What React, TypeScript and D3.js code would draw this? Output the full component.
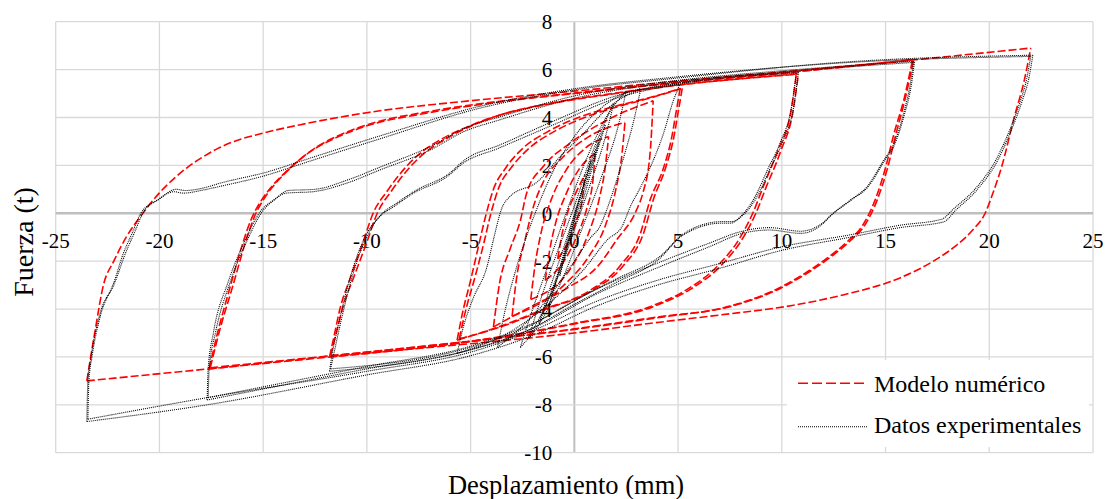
import React, { useEffect } from 'react';
import * as d3 from 'd3';

type P = [number, number];

const xTicks = [-25, -20, -15, -10, -5, 0, 5, 10, 15, 20, 25];
const yTicks = [-10, -8, -6, -4, -2, 0, 2, 4, 6, 8];
const xTitle = 'Desplazamiento (mm)';
const yTitle = 'Fuerza (t)';
const seriesNames = ['Modelo numérico', 'Datos experimentales'];

// ---- Modelo numérico (red, dashed) ----
const modelo1Up: P[] = [[-23.5, -7.0], [-23.1, -4.9], [-22.7, -3.0], [-22.2, -2.0], [-21.6, -1.0], [-20.8, 0], [-20, 0.85], [-19.3, 1.45], [-18.6, 1.95], [-18, 2.3], [-17.2, 2.7], [-16.4, 3.0], [-15, 3.35], [-13.2, 3.7], [-10, 4.2], [-5, 4.7], [0, 5.1], [4.1, 5.45], [10, 5.9], [15.7, 6.35], [22, 6.9]];
const modelo1Down: P[] = [[22, 6.9], [21.7, 5.6], [21.2, 4.0], [20.6, 1.95], [20.2, 0.9], [19.8, 0], [19.2, -0.7], [18.4, -1.35], [17.4, -1.95], [15.7, -2.7], [13, -3.4], [10.5, -3.85], [7, -4.25], [4.1, -4.55], [0, -5.0], [-10, -5.85], [-23.5, -7.0]];
const modelo2Up: P[] = [[-17.6, -6.5], [-17.2, -5.0], [-16.6, -3.1], [-16.0, -1.3], [-15.6, -0.3], [-15.15, 0.45], [-14.6, 1.1], [-14.0, 1.65], [-13.3, 2.2], [-12.6, 2.65], [-11.5, 3.15], [-10, 3.65], [-7, 4.2], [-3.6, 4.65], [0, 5.0], [5, 5.45], [10, 5.85], [16.3, 6.4]];
const modelo2Down: P[] = [[16.3, 6.4], [15.9, 4.8], [15.4, 3.3], [15.0, 1.9], [14.5, 0.56], [13.9, -0.5], [13.2, -1.15], [12.3, -1.8], [11.4, -2.35], [9.8, -3.15], [7.4, -3.9], [4.1, -4.35], [0, -4.85], [-5, -5.35], [-10, -5.8], [-17.6, -6.5]];
const modelo2bUp: P[] = [[-17.55, -6.45], [-17.1, -4.9], [-16.45, -3.0], [-15.85, -1.2], [-15.45, -0.2], [-15.0, 0.55], [-14.45, 1.2], [-13.85, 1.75], [-13.15, 2.3], [-12.45, 2.75], [-11.35, 3.25], [-9.9, 3.72], [-7, 4.25], [-3.6, 4.68], [0, 5.02], [5, 5.46], [10, 5.86], [16.35, 6.42]];
const modelo2bDown: P[] = [[16.35, 6.42], [15.95, 4.8], [15.5, 3.3], [15.1, 1.9], [14.6, 0.56], [14.0, -0.5], [13.3, -1.15], [12.4, -1.8], [11.5, -2.35], [9.9, -3.15], [7.5, -3.9], [4.1, -4.32], [0, -4.83], [-5, -5.34], [-10, -5.8], [-17.55, -6.45]];
const modelo3Up: P[] = [[-11.8, -6.0], [-11.55, -5.0], [-11.3, -4.0], [-10.8, -2.7], [-10.2, -1.25], [-9.7, 0], [-9.0, 0.95], [-8.1, 1.95], [-7.3, 2.6], [-6.5, 3.05], [-4.9, 3.7], [-3.6, 4.1], [-1, 4.6], [2, 5.0], [5, 5.35], [10.7, 5.8]];
const modelo3Down: P[] = [[10.7, 5.8], [10.45, 4.3], [9.8, 2.6], [9.1, 1.1], [8.6, 0], [8.0, -1.0], [6.9, -2.2], [5.4, -3.2], [3.65, -3.9], [0, -4.6], [-5, -5.35], [-11.8, -6.0]];
const modelo3bUp: P[] = [[-11.75, -5.95], [-11.45, -4.9], [-11.15, -3.9], [-10.6, -2.6], [-10.0, -1.2], [-9.5, 0], [-8.8, 0.95], [-7.9, 1.95], [-7.1, 2.6], [-6.3, 3.05], [-4.7, 3.75], [-3.4, 4.15], [-1, 4.62], [2, 5.02], [5, 5.36], [10.8, 5.82]];
const modelo3bDown: P[] = [[10.8, 5.82], [10.55, 4.3], [9.95, 2.6], [9.25, 1.1], [8.75, 0], [8.15, -1.0], [7.05, -2.2], [5.55, -3.2], [3.8, -3.9], [0, -4.62], [-5, -5.36], [-11.75, -5.95]];
const modelo4Up: P[] = [[-5.65, -5.3], [-5.4, -4.2], [-5.0, -2.8], [-4.6, -1.3], [-4.3, -0.2], [-3.9, 1.0], [-3.3, 1.9], [-2.5, 2.7], [-1.3, 3.4], [0.2, 4.0], [1.9, 4.45], [3.5, 4.8], [5.1, 5.2]];
const modelo4Down: P[] = [[5.1, 5.2], [4.9, 4.2], [4.7, 3.2], [4.3, 1.9], [3.65, 0.55], [3.2, -0.8], [2.2, -2.2], [0.8, -3.2], [-1.6, -4.05], [-3.5, -4.7], [-5.65, -5.3]];
const modelo4bUp: P[] = [[-5.55, -5.25], [-5.25, -4.1], [-4.8, -2.7], [-4.35, -1.2], [-4.05, -0.1], [-3.65, 1.05], [-3.0, 1.95], [-2.2, 2.7], [-1.0, 3.4], [0.5, 4.0], [2.1, 4.45], [3.6, 4.8], [5.2, 5.22]];
const modelo4bDown: P[] = [[5.2, 5.22], [5.0, 4.2], [4.8, 3.2], [4.4, 1.9], [3.8, 0.55], [3.35, -0.8], [2.35, -2.2], [0.9, -3.2], [-1.5, -4.05], [-3.4, -4.7], [-5.55, -5.25]];
const modelo5Up: P[] = [[-3.9, -4.75], [-3.6, -2.9], [-3.1, -1.5], [-2.6, -0.3], [-2.3, 0.84], [-1.5, 1.95], [-0.25, 2.9], [1.6, 3.9], [3.8, 4.7]];
const modelo5Down: P[] = [[3.8, 4.7], [3.65, 2.5], [3.3, 0.84], [3.0, 0.14], [2.05, -1.1], [1.1, -2.24], [-0.3, -3.1], [-2.1, -3.9], [-3.9, -4.75]];
const modelo6Up: P[] = [[-3.0, -4.3], [-2.8, -2.8], [-2.4, -1.2], [-2.0, 0.2], [-1.5, 1.3], [-0.6, 2.3], [0.7, 3.2], [2.44, 3.8]];
const modelo6Down: P[] = [[2.44, 3.8], [2.3, 2.5], [2.0, 1.0], [1.5, -0.5], [0.7, -1.8], [-0.5, -3.0], [-3.0, -4.3]];
const modelo7Up: P[] = [[-2.1, -3.6], [-1.9, -2.2], [-1.6, -0.8], [-1.1, 0.6], [-0.4, 1.8], [0.5, 2.7], [1.65, 3.2]];
const modelo7Down: P[] = [[1.65, 3.2], [1.5, 2.0], [1.2, 0.6], [0.7, -0.8], [-0.1, -2.2], [-2.1, -3.6]];
const modelo8Up: P[] = [[-1.4, -2.8], [-1.2, -1.6], [-0.9, -0.4], [-0.4, 0.8], [0.2, 1.8], [1.0, 2.5]];
const modelo8Down: P[] = [[1.0, 2.5], [0.9, 1.4], [0.6, 0.2], [0.1, -1.0], [-0.5, -2.0], [-1.4, -2.8]];
const modelo9Up: P[] = [[-0.8, -1.9], [-0.6, -0.9], [-0.3, 0.1], [0.1, 0.9], [0.5, 1.6]];
const modelo9Down: P[] = [[0.5, 1.6], [0.4, 0.7], [0.1, -0.3], [-0.3, -1.2], [-0.8, -1.9]];

// ---- Datos experimentales (black, dotted) ----
const datos1Up: P[] = [[-23.5, -8.7], [-23.45, -7.0], [-23.3, -6.0], [-22.9, -4.3], [-22.2, -2.9], [-21.75, -1.7], [-21.3, -0.8], [-20.9, 0], [-20.1, 0.55], [-19.3, 0.9], [-18.85, 0.84], [-18, 0.95], [-17.2, 1.1], [-14.8, 1.6], [-13.2, 2.05], [-9.4, 3.1], [-4.5, 4.4], [0, 5.15], [5, 5.65], [13.3, 6.33], [22.1, 6.6]];
const datos1Down: P[] = [[22.1, 6.6], [21.9, 5.6], [21.6, 4.73], [21.0, 3.34], [20.4, 2.2], [19.4, 0.97], [18.4, 0.14], [17.8, -0.36], [15.7, -0.6], [13.3, -1.0], [10, -1.55], [7, -2.3], [4, -3.0], [1, -3.9], [-2, -5.1], [-5, -5.95], [-10, -6.75], [-17.7, -8.0], [-23.5, -8.7]];
const datos1bUp: P[] = [[-23.45, -8.6], [-23.4, -7.0], [-23.25, -6.0], [-22.85, -4.3], [-22.15, -2.9], [-21.65, -1.7], [-21.2, -0.8], [-20.8, 0], [-20.0, 0.6], [-19.2, 1.0], [-18.75, 0.95], [-17.9, 1.05], [-17.1, 1.25], [-14.7, 1.75], [-13.1, 2.2], [-9.3, 3.25], [-4.4, 4.5], [0, 5.2], [5, 5.7], [13.3, 6.3], [22.0, 6.55]];
const datos1bDown: P[] = [[22.0, 6.55], [21.8, 5.6], [21.5, 4.7], [20.9, 3.3], [20.3, 2.2], [19.3, 1.0], [18.3, 0.2], [17.7, -0.25], [15.7, -0.5], [13.3, -0.9], [10, -1.4], [7, -2.1], [4, -2.8], [1, -3.7], [-2, -4.9], [-5, -5.8], [-10, -6.6], [-17.7, -7.7], [-23.45, -8.6]];
const datos2Up: P[] = [[-17.7, -7.8], [-17.65, -6.5], [-17.4, -5.0], [-16.7, -2.9], [-15.8, -1.0], [-15.2, 0], [-14.5, 0.55], [-13.9, 0.84], [-12.6, 0.9], [-11, 1.25], [-9.4, 1.8], [-6.95, 2.64], [-5.35, 3.4], [-3.6, 3.9], [0, 4.8], [5, 5.5], [10, 5.9], [16.35, 6.3]];
const datos2Down: P[] = [[16.35, 6.3], [16.2, 5.44], [15.85, 4.1], [15.4, 2.9], [14.9, 2.2], [14.1, 1.1], [13.3, 0.55], [12.3, -0.15], [12.0, -0.42], [10.9, -0.84], [9.4, -0.7], [8.1, -0.84], [6.5, -1.4], [4.1, -2.24], [1, -3.4], [-2, -4.8], [-5, -5.7], [-10, -6.5], [-17.7, -7.8]];
const datos2bUp: P[] = [[-17.65, -7.7], [-17.6, -6.5], [-17.3, -5.0], [-16.6, -2.9], [-15.7, -1.0], [-15.1, 0], [-14.4, 0.6], [-13.8, 0.95], [-12.5, 1.0], [-10.9, 1.4], [-9.3, 1.95], [-6.9, 2.8], [-5.3, 3.55], [-3.5, 4.05], [0, 4.9], [5, 5.55], [10, 5.95], [16.4, 6.35]];
const datos2bDown: P[] = [[16.4, 6.35], [16.25, 5.4], [15.9, 4.1], [15.45, 2.9], [14.95, 2.2], [14.15, 1.1], [13.35, 0.55], [12.35, -0.1], [12.05, -0.35], [10.9, -0.75], [9.4, -0.6], [8.1, -0.75], [6.5, -1.25], [4.1, -2.05], [1, -3.2], [-2, -4.6], [-5, -5.55], [-10, -6.4], [-17.65, -7.7]];
const datos3Up: P[] = [[-11.8, -6.6], [-11.7, -6.0], [-11.4, -4.75], [-10.65, -2.24], [-10, -0.84], [-9.4, -0.15], [-8.7, 0.28], [-7.75, 0.84], [-6.15, 1.52], [-5.35, 2.1], [-3.7, 2.7], [-1, 3.7], [2, 4.8], [5.1, 5.4], [10.7, 5.85]];
const datos3Down: P[] = [[10.7, 5.85], [10.5, 4.6], [9.9, 2.9], [9.3, 1.8], [8.8, 0.84], [8.0, -0.15], [7.5, -0.42], [7.0, -0.42], [5.7, -0.7], [5.1, -1.0], [4.1, -1.9], [2, -2.9], [0, -3.8], [-2.5, -5.0], [-5, -5.7], [-11.8, -6.6]];
const datos3bUp: P[] = [[-11.75, -6.5], [-11.6, -5.9], [-11.3, -4.7], [-10.55, -2.2], [-9.9, -0.8], [-9.3, -0.05], [-8.6, 0.4], [-7.65, 0.95], [-6.05, 1.65], [-5.25, 2.25], [-3.6, 2.85], [-1, 3.85], [2, 4.9], [5.1, 5.45], [10.8, 5.9]];
const datos3bDown: P[] = [[10.8, 5.9], [10.6, 4.6], [10.0, 2.9], [9.4, 1.8], [8.9, 0.84], [8.1, -0.1], [7.6, -0.35], [7.1, -0.35], [5.8, -0.6], [5.2, -0.9], [4.2, -1.75], [2, -2.75], [0, -3.65], [-2.5, -4.85], [-5, -5.6], [-11.75, -6.5]];
const datos4Up: P[] = [[-5.65, -5.85], [-5.35, -4.75], [-4.9, -3.6], [-4.2, -2.2], [-3.9, -1.1], [-3.5, 0.2], [-3.1, 0.7], [-1.8, 1.3], [-0.7, 2.35], [0.4, 3.3], [1.7, 4.45], [3, 5.1], [5.1, 5.4]];
const datos4Down: P[] = [[5.1, 5.4], [4.77, 4.7], [4.3, 3.34], [3.8, 2.2], [3.2, 1.1], [2.7, 0.28], [2.3, -0.55], [1.6, -1.1], [0.5, -2.3], [-1, -3.6], [-3, -4.9], [-5.65, -5.85]];
const datos5Up: P[] = [[-3.7, -5.6], [-3.4, -4.3], [-2.9, -2.6], [-2.4, -1.2], [-1.8, 0.2], [-1.0, 1.8], [0, 3.2], [1.3, 4.4], [2.4, 5.0], [3.2, 5.2]];
const datos5Down: P[] = [[3.2, 5.2], [2.9, 4.0], [2.4, 2.4], [1.9, 1.0], [1.5, 0], [1.2, -0.6], [0.8, -1.0], [0, -2.0], [-1.5, -3.8], [-3.7, -5.6]];
const datos6Up: P[] = [[-2.6, -5.6], [-2.2, -4.5], [-1.4, -2.5], [-0.4, 0], [0.6, 2.3], [1.6, 4.1], [2.5, 5.1]];
const datos6Down: P[] = [[2.5, 5.1], [2.1, 3.6], [1.3, 1.5], [0.3, -0.8], [-0.6, -2.8], [-1.6, -4.5], [-2.6, -5.6]];
const datos7Up: P[] = [[-2.2, -5.2], [-1.7, -3.8], [-0.9, -1.8], [0, 0.3], [0.9, 2.6], [1.9, 4.6]];
const datos7Down: P[] = [[1.9, 4.6], [1.5, 3.2], [0.8, 1.3], [0, -0.7], [-0.9, -2.9], [-2.2, -5.2]];
const datos8Up: P[] = [[-1.7, -4.6], [-1.2, -3.2], [-0.5, -1.4], [0.2, 0.5], [0.9, 2.4], [1.5, 3.7]];
const datos8Down: P[] = [[1.5, 3.7], [1.0, 2.3], [0.4, 0.5], [-0.3, -1.3], [-1.0, -3.0], [-1.7, -4.6]];
const datos9Up: P[] = [[-1.2, -3.8], [-0.8, -2.6], [-0.3, -1.0], [0.2, 0.5], [0.8, 2.0], [1.2, 3.0]];
const datos9Down: P[] = [[1.2, 3.0], [0.7, 1.6], [0.2, 0.2], [-0.3, -1.2], [-0.8, -2.6], [-1.2, -3.8]];
const datos10Up: P[] = [[-0.7, -2.6], [-0.3, -1.3], [0.1, 0.1], [0.5, 1.3], [0.8, 2.2]];
const datos10Down: P[] = [[0.8, 2.2], [0.4, 1.0], [0, -0.2], [-0.4, -1.5], [-0.7, -2.6]];

const modeloBranches = [modelo1Up, modelo1Down, modelo2Up, modelo2Down, modelo2bUp, modelo2bDown, modelo3Up, modelo3Down, modelo3bUp, modelo3bDown, modelo4Up, modelo4Down, modelo4bUp, modelo4bDown, modelo5Up, modelo5Down, modelo6Up, modelo6Down, modelo7Up, modelo7Down, modelo8Up, modelo8Down, modelo9Up, modelo9Down];
const datosBranches = [datos1Up, datos1Down, datos1bUp, datos1bDown, datos2Up, datos2Down, datos2bUp, datos2bDown, datos3Up, datos3Down, datos3bUp, datos3bDown, datos4Up, datos4Down, datos5Up, datos5Down, datos6Up, datos6Down, datos7Up, datos7Down, datos8Up, datos8Down, datos9Up, datos9Down, datos10Up, datos10Down];

const FONT = 'Liberation Serif';

export default function App() {
  useEffect(() => {
    document.body.style.margin = '0';
  }, []);
  const W = 1107;
  const H = 499;
  const x = d3.scaleLinear().domain([-25, 25]).range([55.7, 1093]);
  const y = d3.scaleLinear().domain([-10, 8]).range([452.7, 21.7]);
  const line = d3
    .line<P>()
    .x((d) => x(d[0]))
    .y((d) => y(d[1]))
    .curve(d3.curveMonotoneX);
  const path = (b: P[]) => line(b.slice().sort((a, c) => a[0] - c[0])) || '';

  return (
    <svg width={W} height={H} style={{ display: 'block', background: '#fff' }}>
      <rect x={0} y={0} width={W} height={H} fill="#fff" />
      {xTicks.map((t) => (
        <line key={'gx' + t} x1={x(t)} x2={x(t)} y1={y(8)} y2={y(-10)} stroke={t === 0 ? '#bfbfbf' : '#d9d9d9'} strokeWidth={t === 0 ? 2 : 1.3} />
      ))}
      {yTicks.map((t) => (
        <line key={'gy' + t} x1={x(-25)} x2={x(25)} y1={y(t)} y2={y(t)} stroke={t === 0 ? '#bfbfbf' : '#d9d9d9'} strokeWidth={t === 0 ? 2.6 : 1.3} />
      ))}
      {xTicks.map((t) => (
        <text key={'tx' + t} x={x(t)} y={y(0) + 35} textAnchor="middle" fontSize={21} fontFamily={FONT} fill="#000">
          {t}
        </text>
      ))}
      {yTicks.map((t) => (
        <text key={'ty' + t} x={x(0) - 22} y={y(t) + 7.5} textAnchor="end" fontSize={21} fontFamily={FONT} fill="#000">
          {t}
        </text>
      ))}
      <g fill="none">
        {modeloBranches.map((b, i) => (
          <path key={'m' + i} d={path(b)} stroke="#ff0000" strokeWidth={1.6} strokeDasharray="8,3" />
        ))}
        {datosBranches.map((b, i) => (
          <path key={'d' + i} d={path(b)} stroke="#000" strokeWidth={1.1} strokeDasharray="1,1" />
        ))}
      </g>
      <text x={566} y={494} textAnchor="middle" fontSize={26.5} fontFamily={FONT} fill="#000">
        {xTitle}
      </text>
      <text transform={`translate(33,242) rotate(-90)`} textAnchor="middle" fontSize={28} fontFamily={FONT} fill="#000">
        {yTitle}
      </text>
      <rect x={787} y={360} width={302} height={87} fill="#fff" />
      <line x1={798} x2={867} y1={383.3} y2={383.3} stroke="#ff0000" strokeWidth={1.6} strokeDasharray="10,4" />
      <text x={874} y={392} fontSize={24} fontFamily={FONT} fill="#000">{seriesNames[0]}</text>
      <line x1={798} x2={867} y1={426.7} y2={426.7} stroke="#000" strokeWidth={1.1} strokeDasharray="1,1" />
      <text x={874} y={433} fontSize={24} fontFamily={FONT} fill="#000">{seriesNames[1]}</text>
    </svg>
  );
}
